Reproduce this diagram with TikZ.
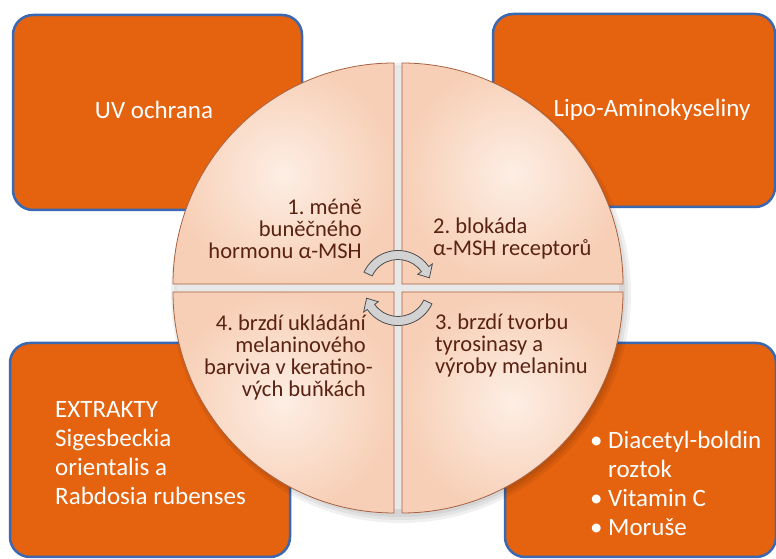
\documentclass[tikz,border=0pt]{standalone}
\usepackage{fontspec}
\setmainfont{Carlito}
\usepackage{tikz}
\usetikzlibrary{calc}
\definecolor{oranzova}{RGB}{229,98,14}
\definecolor{modra}{RGB}{58,104,178}
\definecolor{hneda}{RGB}{90,34,18}
\definecolor{okraj}{RGB}{168,98,66}
\definecolor{svetla}{RGB}{253,238,228}
\definecolor{broskev}{RGB}{247,207,182}
\newcommand{\odrazka}{\makebox[18pt][l]{\textbullet}}
\frenchspacing
\tikzstyle{krabice} = [
    rectangle,
    rounded corners = 20pt,
    draw = modra,
    line width = 2.5pt,
    fill = oranzova,
]
\tikzstyle{bilytext} = [
    text = white,
    font = \fontsize{25}{29}\selectfont,
    align = left,
    inner sep = 0pt,
]
\tikzstyle{ctvrttext} = [
    text = hneda,
    font = \fontsize{22.5}{22}\selectfont,
    inner sep = 0pt,
]
\tikzstyle{ctvrt} = [
    draw = okraj,
    line width = 0.8pt,
    inner color = svetla,
    outer color = broskev,
]
\tikzstyle{sipka} = [
    draw = gray!60!black,
    line width = 0.8pt,
    fill = gray!35,
]

\begin{document}
\begin{tikzpicture} [x = 1pt, y = 1pt]
    \useasboundingbox (0, 0) rectangle (776, 559);

    \node (UV) [krabice, minimum width = 289pt, minimum height = 195pt] at (157.5, 446.5) {};
    \node (Lipo) [krabice, minimum width = 282pt, minimum height = 193pt] at (634, 448.5) {};
    \node (Extrakty) [krabice, minimum width = 280pt, minimum height = 214pt] at (150, 109) {};
    \node (Slozky) [krabice, minimum width = 271pt, minimum height = 214pt] at (640.5, 109) {};

    \node (UVText) [bilytext] at (154, 449) {UV ochrana};
    \node (LipoText) [bilytext] at (652, 449) {Lipo-Aminokyseliny};
    \node (ExtraktyText) [bilytext, anchor = west] at (55, 105.5) {EXTRAKTY\\Sigesbeckia\\orientalis a\\Rabdosia rubenses};
    \node (SlozkyText) [bilytext, anchor = west] at (590, 75.5) {\odrazka Diacetyl-boldin\\\hspace*{18pt}roztok\\\odrazka Vitamin C\\\odrazka Moruše};

    \coordinate (Stred) at (398, 271);

    \foreach \r in {224, 227, 230}
        \fill[black, opacity = 0.06] ($(Stred) + (3, -5)$) circle (\r pt);
    \fill[gray!18] (Stred) circle (221pt);

    \foreach \uhel/\dx/\dy in {90/-1/1, 0/1/1, 270/1/-1, 180/-1/-1}
        \shade[ctvrt] ($(Stred) + (4*\dx, 4*\dy)$) -- ++(\uhel:221pt) arc[start angle = \uhel, delta angle = 90, radius = 221pt] -- cycle;

    \foreach \rot in {0, 180} {
        \begin{scope}[shift = {(Stred)}, rotate = \rot]
            \filldraw[sipka] (155:37.5pt) arc[start angle = 155, end angle = 35, radius = 37.5pt] -- (35:42pt) -- (18:33pt) -- (35:24pt) -- (35:28.5pt) arc[start angle = 35, end angle = 155, radius = 28.5pt] -- cycle;
        \end{scope}
    }

    \node (Krok1) [ctvrttext, anchor = east, align = right] at (362, 330.5) {1. méně\\buněčného\\hormonu α-MSH};
    \node (Krok2) [ctvrttext, anchor = west, align = left] at (433, 320) {2. blokáda\\α-MSH receptorů};
    \node (Krok3) [ctvrttext, anchor = west, align = left] at (435, 213) {3. brzdí tvorbu\\tyrosinasy a\\výroby melaninu};
    \node (Krok4) [ctvrttext, anchor = east, align = right] at (366, 201.5) {4. brzdí ukládání\\melaninového\\barviva v keratino\rlap{-}\\vých buňkách};
\end{tikzpicture}
\end{document}
